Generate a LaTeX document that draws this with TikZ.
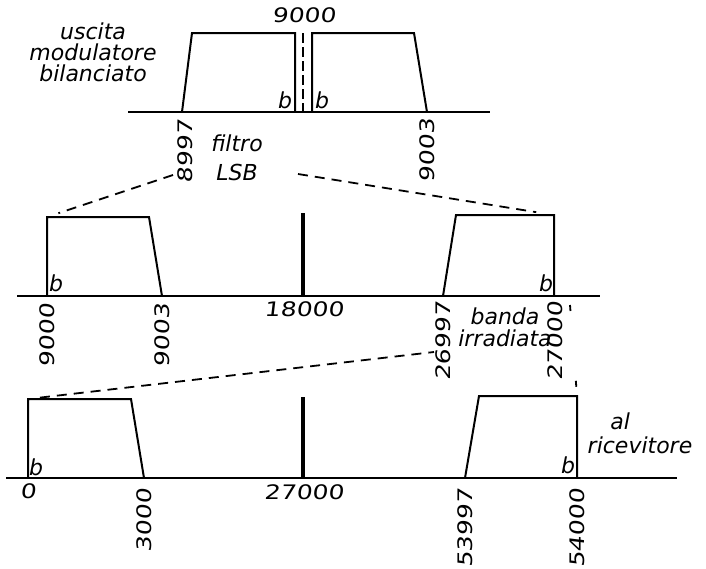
\documentclass[tikz,border=0pt]{standalone}
\usepackage{fontspec}
\setmainfont{DejaVu Sans}
\newfontfamily\numfont[FakeStretch=1.25,FakeSlant=0.12]{DejaVu Sans}
\usetikzlibrary{positioning}

\begin{document}
\begin{tikzpicture}[
  x=0.5pt, y=-0.5pt,
  axis/.style={line width=1.1pt},
  band/.style={line width=1pt},
  carrier/.style={line width=1.8pt},
  link/.style={dashed, dash pattern=on 5pt off 3.5pt, line width=0.9pt},
  num/.style={rotate=90, anchor=east, inner sep=1.5pt, font=\numfont\fontsize{10}{12}\selectfont},
  hnum/.style={inner sep=0pt, font=\numfont\fontsize{10}{12}\selectfont},
  word/.style={align=center, inner sep=0pt, font=\itshape\fontsize{11}{10.5}\selectfont},
  sb/.style={inner sep=0pt, font=\itshape\fontsize{11}{12}\selectfont},
]
\useasboundingbox (0,0) rectangle (706,568);

% uscita del modulatore
\draw[axis] (128,112) -- (490,112);
\draw[band] (182,112) -- (192,33) -- (295,33) -- (295,112);
\draw[band] (312,112) -- (312,33) -- (414,33) -- (427,112);
\draw[band, dash pattern=on 5pt off 2pt] (303,33) -- (303,112);

\node[word] (usc) at (93,52) {uscita\\modulatore\\bilanciato};
\node[hnum] (c9000) at (304,15) {9000};
\node[sb] (b1) at (285,100) {b};
\node[sb] (b2) at (322,100) {b};
\node[num] (n8997) at (185,116) {8997};
\node[num] (n9003) at (427,115) {9003};
\node[word] (lsb) at (237,158) {filtro\\[4pt]LSB};

% dopo il secondo modulatore
\draw[axis] (17,296) -- (600,296);
\draw[band] (47,296) -- (47,217) coordinate (m1tl) -- (149,217) -- (162,296);
\draw[band] (443,296) -- (456,215) -- (554,215) coordinate (m2tr) -- (554,296);
\draw[carrier] (303,213) -- (303,296);

\node[sb] (b3) at (56,283) {b};
\node[sb] (b4) at (546,283) {b};
\node[hnum] (c18000) at (304,309) {18000};
\node[num] (m9000) at (47,300) {9000};
\node[num] (m9003) at (162,300) {9003};
\node[num] (m26997) at (443,298) {26997};
\node[num] (m27000) at (555,298) {27000};
\node[word, font=\itshape\fontsize{11}{11}\selectfont] (irr) at (505,327) {banda\\irradiata};

% banda al ricevitore
\draw[axis] (6,478) -- (677,478);
\draw[band] (28,478) -- (28,399) coordinate (r1tl) -- (131,399) -- (144,478);
\draw[band] (465,478) -- (479,396) -- (577,396) coordinate (r2tr) -- (577,478);
\draw[carrier] (303,397) -- (303,478);

\node[sb] (b5) at (36,467) {b};
\node[sb] (b6) at (568,465) {b};
\node[hnum] (r0) at (28,491) {0};
\node[hnum] (c27000) at (304,492) {27000};
\node[num] (r3000) at (144,485) {3000};
\node[num] (r53997) at (465,485) {53997};
\node[num] (r54000) at (577,485) {54000};
\node[word, font=\itshape\fontsize{11}{12}\selectfont] (ric) at (640,433) {al\hspace*{1.8em}\\ricevitore};

% linee di riporto
\coordinate (fin1) at (173,175);
\coordinate (fin2) at (298,174);
\coordinate (irr1) at (434,352);
\coordinate (irr2) at (570,305);
\draw[link, shorten >=6pt] (fin1) -- (m1tl);
\draw[link, shorten >=9pt] (fin2) -- (m2tr);
\draw[link, shorten <=6pt] (r1tl) -- (irr1);
\draw[link, dash pattern=on 3pt off 35pt, shorten >=4pt] (irr2) -- (r2tr);

\end{tikzpicture}
\end{document}
